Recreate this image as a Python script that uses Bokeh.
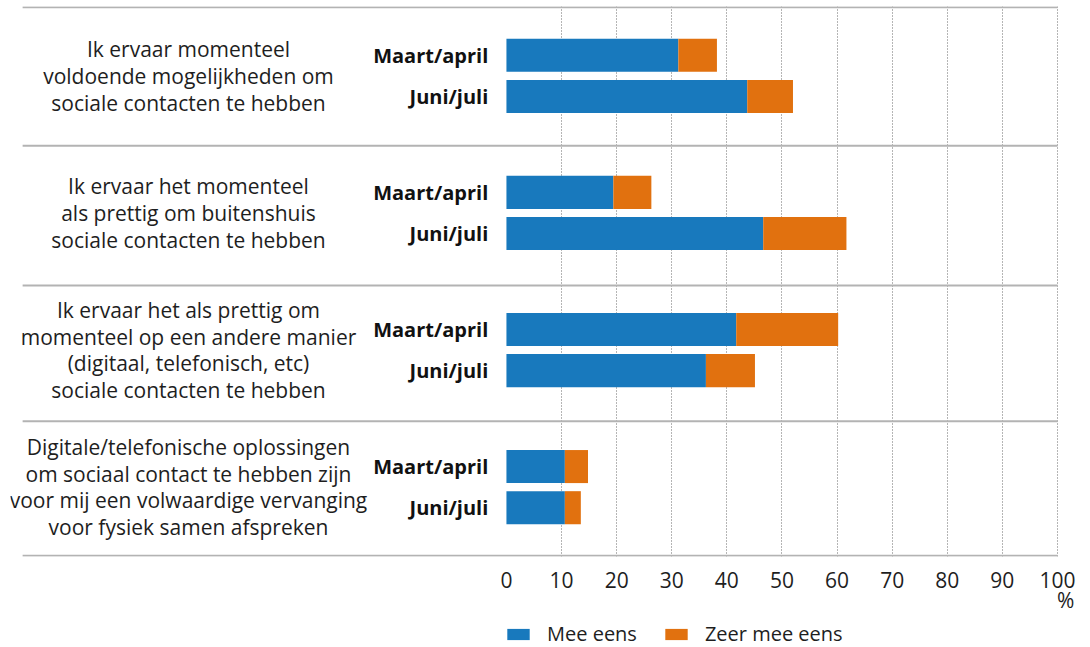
import numpy as np
from bokeh.plotting import figure
from bokeh.layouts import column
from bokeh.models import (Range1d, FixedTicker, LinearAxis, Legend, LegendItem,
                          ColumnDataSource)
from bokeh.core.properties import value
from bokeh.embed import file_html
from bokeh.resources import INLINE

# ---------------- data ----------------
statements = [
    "Ik ervaar momenteel\nvoldoende mogelijkheden om\nsociale contacten te hebben",
    "Ik ervaar het momenteel\nals prettig om buitenshuis\nsociale contacten te hebben",
    "Ik ervaar het als prettig om\nmomenteel op een andere manier\n(digitaal, telefonisch, etc)\nsociale contacten te hebben",
    "Digitale/telefonische oplossingen\nom sociaal contact te hebben zijn\nvoor mij een volwaardige vervanging\nvoor fysiek samen afspreken",
]
periods = ["Maart/april", "Juni/juli"]
series = ["Mee eens", "Zeer mee eens"]

mee_eens_maart = [31.2, 19.4, 41.7, 10.6]
zeer_mee_eens_maart = [7.0, 6.9, 18.5, 4.2]
mee_eens_juni = [43.7, 46.6, 36.2, 10.6]
zeer_mee_eens_juni = [8.3, 15.1, 8.9, 2.9]

tick_values = [0, 10, 20, 30, 40, 50, 60, 70, 80, 90, 100]
unit_label = "%"

# ---------------- styling ----------------
BLUE = "#1879bd"
ORANGE = "#e1710f"
TXT = "#1e1e1e"
FONT = "Open Sans"
XMIN = -90.0
XLINE = -87.8
XMAX = 102.0

n = len(statements)
centers = np.arange(n)[::-1] + 0.5
offset = 0.15
bar_h = 0.241
separators = [4.0, 2.99, 1.97, 0.98, 0.0]

p = figure(width=1090, height=618, x_range=Range1d(XMIN, XMAX),
           y_range=Range1d(-0.006, 4.006),
           output_backend="svg", toolbar_location=None,
           y_axis_location=None, x_axis_location="below",
           min_border_left=10, min_border_right=22, min_border_top=6,
           min_border_bottom=62)
p.outline_line_color = None
p.background_fill_color = "white"
p.border_fill_color = "white"
p.ygrid.visible = False

p.xgrid.ticker = FixedTicker(ticks=tick_values[1:])
p.xgrid.grid_line_color = "#6a6a6a"
p.xgrid.grid_line_dash = "1 2"
p.xgrid.grid_line_width = 1

ax = p.xaxis[0]
ax.ticker = FixedTicker(ticks=tick_values)
ax.axis_line_color = None
ax.major_tick_line_color = None
ax.minor_tick_line_color = None
ax.major_label_text_font = FONT
ax.major_label_text_font_size = "21px"
ax.major_label_text_color = TXT
ax.major_label_standoff = 9

ax2 = LinearAxis(ticker=FixedTicker(ticks=[101.5]),
                 major_label_overrides={101.5: unit_label})
ax2.axis_line_color = None
ax2.major_tick_line_color = None
ax2.minor_tick_line_color = None
ax2.major_label_text_font = FONT
ax2.major_label_text_font_size = "21px"
ax2.major_label_text_color = TXT
ax2.major_label_standoff = -11
p.add_layout(ax2, "below")

# separators
p.segment(x0=[XLINE] * len(separators), x1=[100] * len(separators),
          y0=separators, y1=separators, line_color="#b3b3b3", line_width=2)

# bars
y_maart = centers + offset
y_juni = centers - offset
src_m = ColumnDataSource(dict(y=y_maart, a=mee_eens_maart,
                              b=np.array(mee_eens_maart) + np.array(zeer_mee_eens_maart)))
src_j = ColumnDataSource(dict(y=y_juni, a=mee_eens_juni,
                              b=np.array(mee_eens_juni) + np.array(zeer_mee_eens_juni)))
p.hbar(y="y", left=0, right="a", height=bar_h, source=src_m,
       fill_color=BLUE, line_color=None)
p.hbar(y="y", left="a", right="b", height=bar_h, source=src_m,
       fill_color=ORANGE, line_color=None)
p.hbar(y="y", left=0, right="a", height=bar_h, source=src_j,
       fill_color=BLUE, line_color=None)
p.hbar(y="y", left="a", right="b", height=bar_h, source=src_j,
       fill_color=ORANGE, line_color=None)

# statement labels
p.text(x=[-57.7] * n, y=centers, text=statements, text_align="center",
       text_baseline="middle", text_font=value(FONT), text_font_size="21px",
       text_line_height=0.955, text_color=TXT)

# period labels
p.text(x=[-3.3] * n, y=y_maart, text=[periods[0]] * n, text_align="right",
       text_baseline="middle", text_font=value(FONT), text_font_size="20px",
       text_font_style="bold", text_color="#111111")
p.text(x=[-3.3] * n, y=y_juni, text=[periods[1]] * n, text_align="right",
       text_baseline="middle", text_font=value(FONT), text_font_size="20px",
       text_font_style="bold", text_color="#111111")

# legend strip (legend-only renderers, kept outside the visible range)
p2 = figure(width=1090, height=29, x_range=Range1d(0, 1), y_range=Range1d(0, 1),
            output_backend="svg", toolbar_location=None,
            x_axis_location=None, y_axis_location=None,
            min_border_left=0, min_border_right=0, min_border_top=0,
            min_border_bottom=0)
p2.outline_line_color = None
p2.grid.visible = False
l1 = p2.hbar(y=[-5], left=[0], right=[0], height=0.5, fill_color=BLUE, line_color=None)
l2 = p2.hbar(y=[-5], left=[0], right=[0], height=0.5, fill_color=ORANGE, line_color=None)
legend = Legend(items=[LegendItem(label=series[0], renderers=[l1]),
                       LegendItem(label=series[1], renderers=[l2])],
                orientation="horizontal", location=(494, 0))
legend.border_line_color = None
legend.background_fill_alpha = 0
legend.margin = 0
legend.padding = 0
legend.spacing = 25
legend.label_standoff = 15
legend.glyph_width = 28
legend.glyph_height = 14
legend.label_text_font = FONT
legend.label_text_font_size = "20px"
legend.label_text_color = TXT
p2.add_layout(legend)

layout = column(p, p2, spacing=0)
open("out.html", "w").write(file_html(layout, INLINE))
